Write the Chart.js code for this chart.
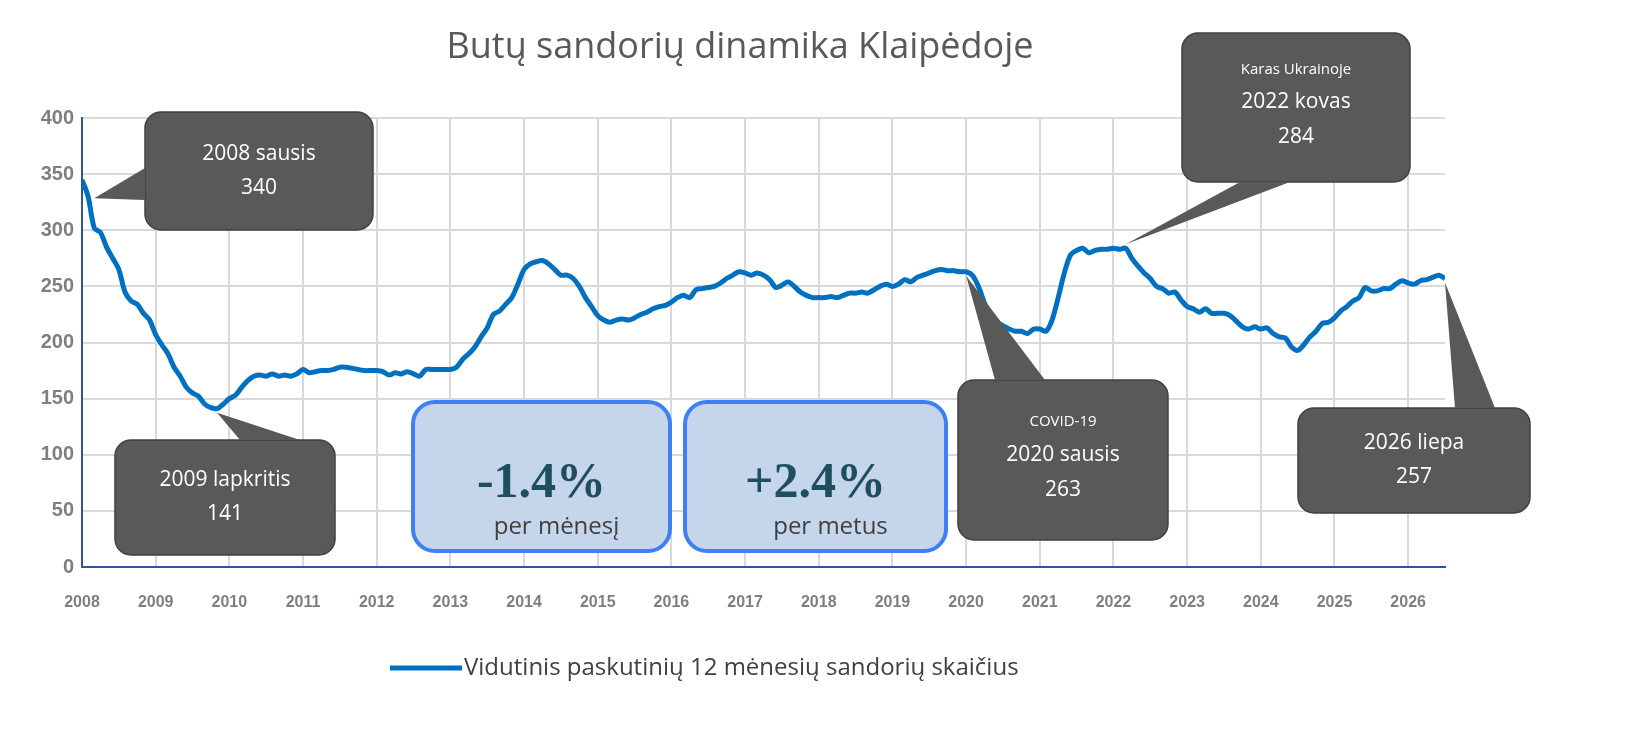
<!DOCTYPE html>
<html><head><meta charset="utf-8">
<script src="https://cdn.jsdelivr.net/npm/chart.js@4/dist/chart.umd.min.js"></script>
<style>html,body{margin:0;background:#fff}#c{display:block}</style>
</head><body>
<canvas id="c" width="1641" height="736"></canvas>
<script>
// menesiniai duomenys nuo 2008 sausio iki 2026 liepos
const startYear = 2008;
const values = [
  345, 330, 302, 298, 285, 275, 265, 245, 237, 234, 226, 220,
  207, 198, 190, 178, 170, 160, 155, 152, 145, 142, 141, 145,
  150, 153, 160, 166, 170, 171, 170, 172, 170, 171, 170, 172,
  176, 173, 174, 175, 175, 176, 178, 178, 177, 176, 175, 175,
  175, 174, 171, 173, 172, 174, 172, 170, 176, 176, 176, 176,
  176, 178, 185, 190, 196, 205, 213, 225, 228, 234, 240, 252,
  265, 270, 272, 273, 270, 265, 260, 260, 257, 250, 240, 232,
  224, 220, 218, 220, 221, 220, 222, 225, 227, 230, 232, 233,
  236, 240, 242, 240, 247, 248, 249, 250, 253, 257, 260, 263,
  262, 260, 262, 260, 256, 249, 251, 254, 250, 245, 242, 240,
  240, 240, 241, 240, 242, 244, 244, 245, 244, 247, 250, 252,
  250, 252, 256, 254, 258, 260, 262, 264, 265, 264, 264, 263,
  263, 260, 250, 235, 222, 218, 215, 212, 210, 210, 208, 212,
  212, 210, 220, 240, 262, 278, 282, 284, 280, 282, 283, 283,
  284, 283, 284, 275, 268, 262, 257, 250, 248, 244, 245, 238,
  232, 230, 227, 230, 226, 226, 226, 224, 219, 214, 212, 214,
  212, 213, 208, 205, 204, 196, 193, 198, 205, 210, 217, 218,
  222, 228, 232, 237, 240, 249, 246, 246, 248, 248, 252, 255,
  253, 252, 255, 256, 258, 260, 257
];
const yearTicks = [2008, 2009, 2010, 2011, 2012, 2013, 2014, 2015, 2016, 2017, 2018, 2019, 2020, 2021, 2022, 2023, 2024, 2025, 2026];
const seriesLabel = 'Vidutinis paskutinių 12 mėnesių sandorių skaičius';
const chartTitle = 'Butų sandorių dinamika Klaipėdoje';

const points = values.map((v, i) => ({ x: startYear + i / 12, y: v }));

// tamsios issnasos: tekstas, dezute, uodegos taskas (indeksas, reiksme)
const callouts = [
  { lines: ['2008 sausis', '340'], box: [145, 112, 228, 118], tip: [2, 325], base: [[145, 168], [145, 200]] },
  { lines: ['2009 lapkritis', '141'], box: [115, 440, 220, 115], tip: [22, 141], base: [[240, 440], [300, 440]] },
  { lines: ['Karas Ukrainoje', '2022 kovas', '284'], small: true, box: [1182, 33, 228, 149], tip: [170, 284], base: [[1240, 182], [1290, 182]] },
  { lines: ['COVID-19', '2020 sausis', '263'], small: true, box: [958, 380, 210, 160], tip: [144, 263], base: [[995, 380], [1045, 380]] },
  { lines: ['2026 liepa', '257'], box: [1298, 408, 232, 105], tip: [222, 257], base: [[1455, 408], [1495, 408]] }
];
const infoBoxes = [
  { big: '-1.4%', sub: 'per mėnesį', box: [413, 402, 257, 149] },
  { big: '+2.4%', sub: 'per metus', box: [685, 402, 261, 149] }
];

function rr(ctx, x, y, w, h, r) {
  ctx.beginPath();
  ctx.roundRect(x, y, w, h, r);
}

const decor = {
  id: 'decor',
  afterDraw(chart) {
    const ctx = chart.ctx;
    const xs = chart.scales.x, ys = chart.scales.y;
    ctx.save();
    // pavadinimas
    ctx.fillStyle = '#595959';
    ctx.font = '36px "Open Sans", sans-serif';
    ctx.textAlign = 'center';
    ctx.textBaseline = 'middle';
    ctx.fillText(chartTitle, 740, 48);
    // legenda
    ctx.strokeStyle = '#0070c0';
    ctx.lineWidth = 5;
    ctx.beginPath(); ctx.moveTo(390, 668); ctx.lineTo(462, 668); ctx.stroke();
    ctx.fillStyle = '#404040';
    ctx.font = '24px "Open Sans", sans-serif';
    ctx.textAlign = 'left';
    ctx.fillText(seriesLabel, 464, 668);

    infoBoxes.forEach(b => {
      const [x, y, w, h] = b.box;
      rr(ctx, x, y, w, h, 22);
      ctx.fillStyle = '#c5d5ea'; ctx.fill();
      ctx.lineWidth = 4; ctx.strokeStyle = '#3d7ff5'; ctx.stroke();
      ctx.textAlign = 'center';
      ctx.fillStyle = '#1f4e5f';
      ctx.font = 'bold 50px "Liberation Serif", serif';
      ctx.fillText(b.big, x + w / 2, y + 82);
      ctx.fillStyle = '#404040';
      ctx.font = '24px "Open Sans", sans-serif';
      ctx.fillText(b.sub, x + w / 2 + 15, y + 125);
    });

    callouts.forEach(c => {
      const [x, y, w, h] = c.box;
      const tx = xs.getPixelForValue(points[c.tip[0]].x);
      const ty = ys.getPixelForValue(c.tip[1]);
      ctx.fillStyle = '#595959';
      ctx.strokeStyle = '#404040';
      ctx.lineWidth = 1.5;
      rr(ctx, x, y, w, h, 16);
      ctx.fill(); ctx.stroke();
      ctx.beginPath();
      ctx.moveTo(c.base[0][0], c.base[0][1]);
      ctx.lineTo(tx, ty + (ty < y ? 4 : -4));
      ctx.lineTo(c.base[1][0], c.base[1][1]);
      ctx.closePath();
      ctx.fill();
      ctx.fillStyle = '#fff';
      ctx.textAlign = 'center';
      const cx = x + w / 2;
      if (c.small) {
        ctx.font = '15px "Open Sans", sans-serif';
        ctx.fillText(c.lines[0], cx, y + h / 2 - 38);
        ctx.font = '21px "Open Sans", sans-serif';
        ctx.fillText(c.lines[1], cx, y + h / 2 - 5);
        ctx.fillText(c.lines[2], cx, y + h / 2 + 30);
      } else {
        ctx.font = '21px "Open Sans", sans-serif';
        ctx.fillText(c.lines[0], cx, y + h / 2 - 17);
        ctx.fillText(c.lines[1], cx, y + h / 2 + 17);
      }
    });
    ctx.restore();
  }
};

new Chart(document.getElementById('c'), {
  type: 'line',
  data: {
    datasets: [{
      label: seriesLabel,
      data: points,
      borderColor: '#0070c0',
      borderWidth: 5,
      pointRadius: 0,
      tension: 0.3,
      fill: false
    }]
  },
  options: {
    responsive: false,
    animation: false,
    layout: { padding: { top: 118, right: 196, bottom: 0, left: 0 } },
    plugins: { legend: { display: false }, title: { display: false }, tooltip: { enabled: false } },
    scales: {
      x: {
        type: 'linear',
        min: 2008,
        max: 2008 + 222 / 12,
        afterBuildTicks: a => { a.ticks = yearTicks.map(v => ({ value: v })); },
        afterFit: a => { a.height = 169; },
        grid: { color: '#d9d9d9', lineWidth: 2, drawTicks: false },
        border: { color: '#2f5597', width: 2 },
        ticks: { color: '#7f7f7f', font: { size: 16, weight: 'bold', family: 'Liberation Sans' }, padding: 26, callback: v => String(v) }
      },
      y: {
        min: 0, max: 400,
        ticks: { stepSize: 50, color: '#7f7f7f', font: { size: 20, weight: 'bold', family: 'Liberation Sans' }, padding: 8 },
        afterFit: a => { a.width = 82; },
        grid: { color: '#d9d9d9', lineWidth: 2, drawTicks: false },
        border: { color: '#2f5597', width: 2 }
      }
    }
  },
  plugins: [decor]
});
</script>
</body></html>
